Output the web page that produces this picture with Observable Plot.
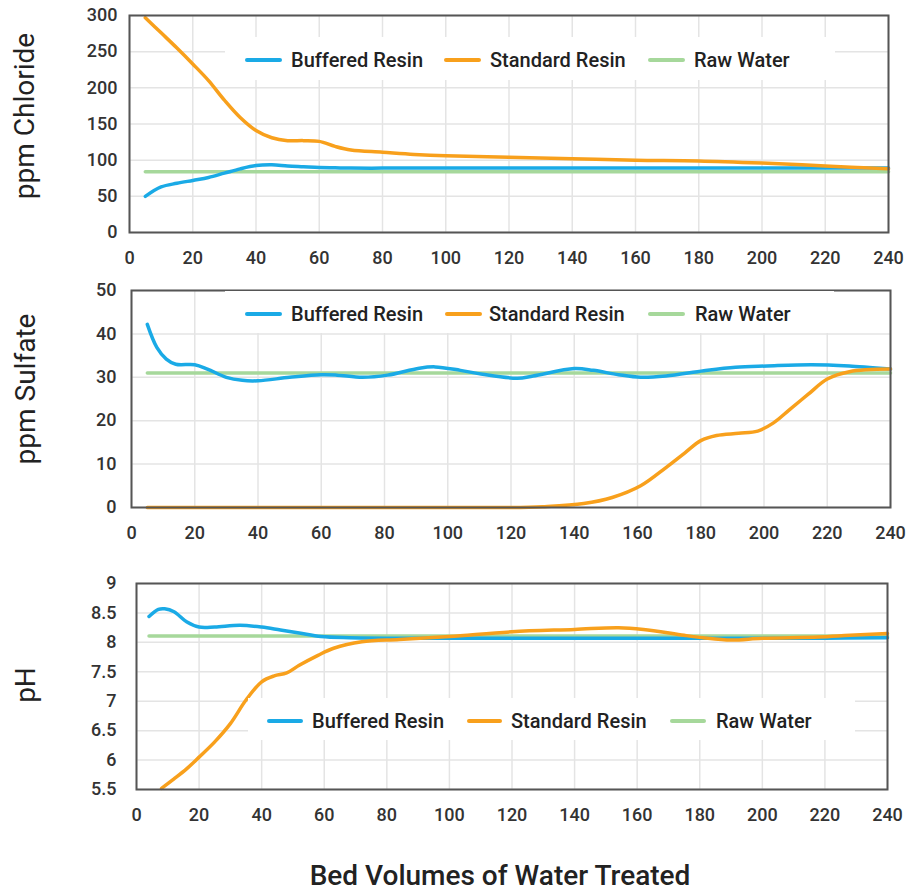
<!DOCTYPE html>
<html><head><meta charset="utf-8">
<script src="https://cdn.jsdelivr.net/npm/d3@7"></script>
<script src="https://cdn.jsdelivr.net/npm/@observablehq/plot@0.6"></script>
<style>
html,body{margin:0;padding:0;background:#fff;overflow:hidden}
#root{position:relative;width:909px;height:892px;font-family:Roboto,sans-serif}
.panel{position:absolute;left:0}
.legend{position:absolute;background:#fff}
.sw{position:absolute;height:4px;border-radius:2px}
.lt{position:absolute;font-size:20px;font-weight:500;color:#222;white-space:nowrap;line-height:20px}
.title{position:absolute;font-size:28px;color:#222;white-space:nowrap;line-height:28px}
</style></head><body><div id="root"></div>
<script>
// ---------- data ----------
const bedVolumeTicks = [0,20,40,60,80,100,120,140,160,180,200,220,240];
const chlorideTicks = [0,50,100,150,200,250,300];
const sulfateTicks = [0,10,20,30,40,50];
const phTicks = [5.5,6,6.5,7,7.5,8,8.5,9];
const seriesNames = ["Buffered Resin","Standard Resin","Raw Water"];
const seriesColors = ["#1aaae6","#f8a01c","#a6d89b"];
const axisTitles = ["ppm Chloride","ppm Sulfate","pH","Bed Volumes of Water Treated"];

// Chloride panel
const chlorideX = [5,10,15,20,25,30,35,40,45,50,55,60,65,70,80,90,100,120,140,160,180,200,220,240];
const chlorideBuffered = [50,63,68,72,76,82,88,92.5,93.5,92,91,90,89.5,89,89,89,89,89,89,89,89,89,89,89];
const chlorideStandard = [297,276,255,233,210,183,159,141,131,127,127,126,119,114,111,108,106,104,102,100,99,96,92,88];
const chlorideRawX = [5,240];
const chlorideRaw = [84,84];

// Sulfate panel
const sulfateBufferedX = [5,8,11,14,20,24,30,35,40,50,60,65,73,81,91,96,104,111,122,127,140,146,154,161,169,181,191,201,215,227,240];
const sulfateBuffered = [42.2,36.9,34.2,33.0,32.9,31.9,30.0,29.3,29.2,30.0,30.6,30.5,30.0,30.5,32.1,32.4,31.6,30.7,29.8,30.3,32.0,31.6,30.6,30.0,30.3,31.5,32.3,32.6,32.9,32.6,31.9];
const sulfateStandardX = [5,40,80,120,130,143,152,161,169,175,180,185,192,198,203,208,214,220,227,240];
const sulfateStandard = [0,0,0,0,0.2,0.9,2.3,5.0,9.2,12.6,15.4,16.6,17.1,17.6,19.5,22.5,26.1,29.6,31.3,31.9];
const sulfateRawX = [5,240];
const sulfateRaw = [31,31];

// pH panel
const phBufferedX = [4,7,9,12,16,20,25,33,40,46,52,59,68,100,140,180,220,240];
const phBuffered = [8.44,8.56,8.57,8.52,8.35,8.26,8.26,8.29,8.26,8.21,8.16,8.10,8.08,8.07,8.07,8.07,8.07,8.08];
const phStandardX = [8,12,16,20,25,30,35,40,44,48,52,58,63,72,84,100,120,140,154,162,175,181,190,200,218,228,240];
const phStandard = [5.52,5.68,5.85,6.05,6.31,6.62,7.02,7.33,7.43,7.48,7.61,7.78,7.90,8.01,8.05,8.10,8.18,8.22,8.25,8.22,8.12,8.08,8.04,8.07,8.09,8.12,8.15];
const phRawX = [4,240];
const phRaw = [8.11,8.11];

// ---------- build ----------
const root = document.getElementById("root");
function rows(xs, ys, name){ return xs.map((x,i)=>({x, y: ys[i], series: name})); }

function makePanel(o){
  const data = [
    ...rows(o.raw[0], o.raw[1], seriesNames[2]),
    ...rows(o.buf[0], o.buf[1], seriesNames[0]),
    ...rows(o.std[0], o.std[1], seriesNames[1])
  ];
  const chart = Plot.plot({
    width: 909, height: o.height,
    marginTop: o.mt, marginBottom: o.mb, marginLeft: o.ml, marginRight: o.mr,
    style: "font-family:Roboto,sans-serif;font-size:18px;font-weight:500;color:#333;background:transparent;overflow:visible",
    x: {domain: [0,240], label: null},
    y: {domain: o.yDomain, label: null},
    color: {domain: seriesNames, range: seriesColors},
    marks: [
      Plot.gridX(bedVolumeTicks, {stroke: "#e4e4e4", strokeOpacity: 1, strokeWidth: 1.5}),
      Plot.gridY(o.yTicks, {stroke: "#e4e4e4", strokeOpacity: 1, strokeWidth: 1.5}),
      Plot.line(data, {x: "x", y: "y", z: "series", stroke: "series", strokeWidth: 3.5, curve: "catmull-rom"}),
      Plot.frame({stroke: "#555", strokeWidth: 2}),
      Plot.axisX(bedVolumeTicks, {tickSize: 0, tickPadding: 19, label: null}),
      Plot.axisY(o.yTicks, {tickSize: 0, tickPadding: o.yPad, label: null, tickFormat: d => String(d)})
    ]
  });
  chart.classList.add("panel");
  chart.style.top = o.top + "px";
  chart.style.position = "absolute";
  root.appendChild(chart);

  // legend (inside plot area)
  const lg = document.createElement("div");
  lg.className = "legend";
  lg.style.left = o.lg.box[0] + "px"; lg.style.top = o.lg.box[1] + "px";
  lg.style.width = o.lg.box[2] + "px"; lg.style.height = o.lg.box[3] + "px";
  root.appendChild(lg);
  o.lg.items.forEach((it, i) => {
    const sw = document.createElement("div");
    sw.className = "sw";
    sw.style.left = it[0] + "px"; sw.style.width = (it[1]-it[0]) + "px";
    sw.style.top = (o.lg.cy - 2) + "px"; sw.style.background = seriesColors[i];
    root.appendChild(sw);
    const t = document.createElement("div");
    t.className = "lt"; t.textContent = seriesNames[i];
    t.style.left = it[2] + "px"; t.style.top = (o.lg.cy - 10) + "px";
    root.appendChild(t);
  });

  // rotated y title
  const yt = document.createElement("div");
  yt.className = "title"; yt.textContent = o.title;
  yt.style.left = "0px"; yt.style.top = "0px";
  yt.style.transformOrigin = "0 0";
  root.appendChild(yt);
  const w = yt.getBoundingClientRect().width;
  yt.style.transform = `translate(${o.titleX}px, ${o.titleY + w/2}px) rotate(-90deg)`;
}

makePanel({
  top: 0, height: 272, mt: 15, mb: 40, ml: 129, mr: 21,
  yDomain: [0,300], yTicks: chlorideTicks, yPad: 12,
  buf: [chlorideX, chlorideBuffered], std: [chlorideX, chlorideStandard], raw: [chlorideRawX, chlorideRaw],
  lg: {box: [225, 37, 610, 43], cy: 60, items: [[245,282,291],[444,481,490],[648,685,694]]},
  title: axisTitles[0], titleX: 11, titleY: 116
});
makePanel({
  top: 275, height: 272, mt: 15, mb: 40, ml: 131, mr: 19,
  yDomain: [0,50], yTicks: sulfateTicks, yPad: 15,
  buf: [sulfateBufferedX, sulfateBuffered], std: [sulfateStandardX, sulfateStandard], raw: [sulfateRawX, sulfateRaw],
  lg: {box: [225, 291, 609, 42], cy: 314, items: [[245,282,291],[445,482,489],[648,685,695]]},
  title: axisTitles[1], titleX: 12, titleY: 389
});
makePanel({
  top: 568, height: 261, mt: 15, mb: 40, ml: 136, mr: 22,
  yDomain: [5.5,9], yTicks: phTicks, yPad: 20,
  buf: [phBufferedX, phBuffered], std: [phStandardX, phStandard], raw: [phRawX, phRaw],
  lg: {box: [248, 698, 607, 42], cy: 721, items: [[267,303,312],[467,502,511],[670,706,716]]},
  title: axisTitles[2], titleX: 12, titleY: 685
});

// x axis title
const xt = document.createElement("div");
xt.className = "title"; xt.textContent = axisTitles[3];
xt.style.left = "500px"; xt.style.top = "862px"; xt.style.transform = "translateX(-50%)";
xt.style.fontWeight = "500";
root.appendChild(xt);
</script></body></html>
